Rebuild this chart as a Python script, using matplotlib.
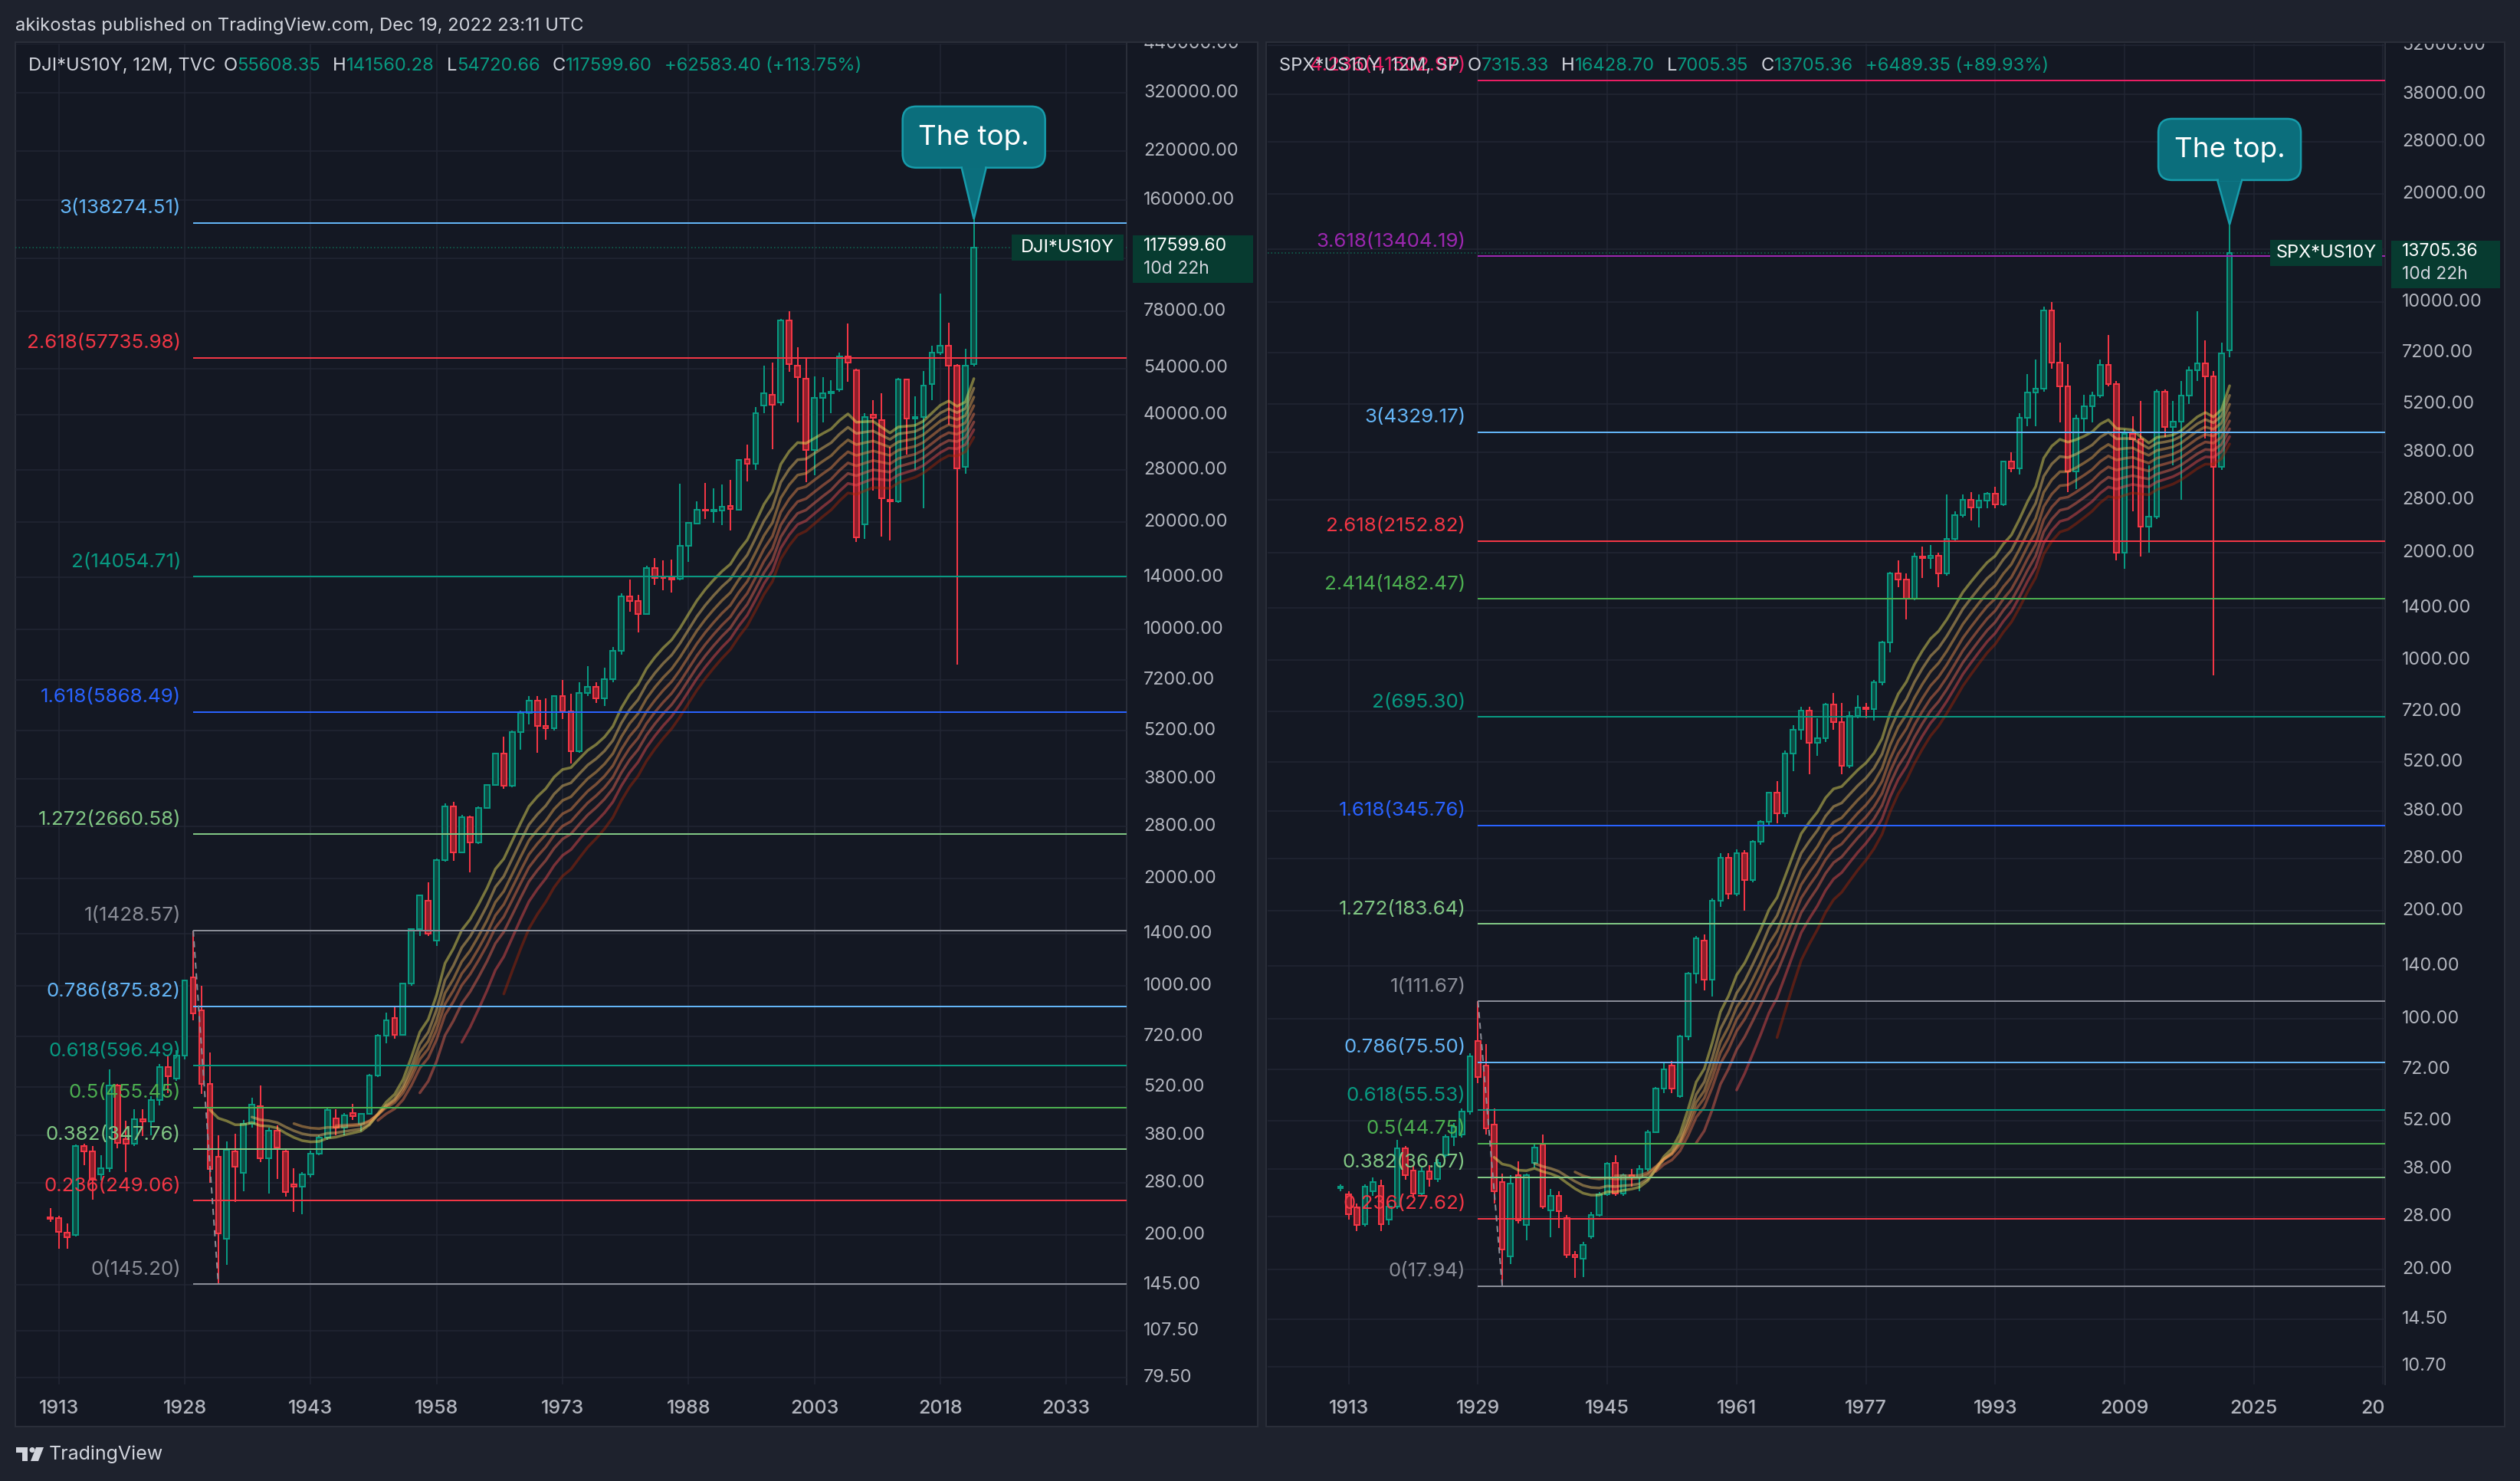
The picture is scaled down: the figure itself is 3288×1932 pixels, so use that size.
import numpy as np
import matplotlib
matplotlib.use('Agg')
import matplotlib.pyplot as plt
from matplotlib.patches import Rectangle, FancyBboxPatch, Polygon, Circle

plt.rcParams['font.family'] = ['Inter', 'DejaVu Sans']

W, H = 3288, 1932

# ---------------- data (yearly candles 1912-2022) ----------------
years = list(range(1912, 2023))

dji_open = [224, 223, 203, 200, 355, 343, 295, 307, 525, 371,
            360, 421, 415, 477, 592, 548, 637, 1055, 853, 530,
            331, 195, 343, 298, 410, 459, 328, 392, 343, 277,
            273, 295, 337, 375, 424, 399, 439, 410, 437, 560,
            724, 813, 727, 1013, 1439, 1731, 1340, 2253, 3186, 2365,
            2968, 2517, 3159, 3654, 4478, 3646, 5159, 5814, 6307, 5361,
            5279, 6487, 5871, 4560, 6615, 6902, 6392, 7253, 8714, 12378,
            12005, 11030, 14890, 13950, 13920, 13850, 17130, 19820, 21700, 21450,
            21580, 22200, 21660, 30000, 29100, 42500, 45500, 43300, 73500, 55000,
            50600, 31820, 44700, 46000, 47060, 58300, 53400, 19750, 40100, 38600,
            23100, 22900, 50140, 38950, 39400, 48890, 59840, 62470, 55050, 28540,
            55608.35]
dji_high = [237, 226, 215, 358, 360, 355, 334, 583, 530, 417,
            451, 451, 490, 604, 640, 660, 1040, 1428.57, 1000, 649,
            380, 365, 385, 420, 484, 525, 400, 405, 350, 308,
            300, 345, 380, 455, 450, 440, 465, 440, 565, 730,
            840, 880, 1015, 1450, 1800, 1950, 2270, 3250, 3280, 3020,
            3000, 3180, 3680, 4500, 5000, 5200, 5900, 6500, 6500, 6400,
            6500, 7200, 6600, 7100, 7900, 7100, 7800, 8900, 12600, 13800,
            12500, 15100, 15880, 15600, 15700, 25670, 20000, 22900, 25790, 24900,
            25500, 26300, 29900, 33000, 42000, 55000, 56000, 74500, 78050, 62000,
            57500, 51300, 51000, 50000, 59800, 72300, 54000, 40500, 44000, 46000,
            32500, 50800, 50500, 45000, 53000, 62500, 87400, 72340, 55500, 61370,
            141560.28]
dji_low = [217, 183, 183, 198, 314, 251, 284, 300, 350, 300,
           355, 379, 380, 462, 500, 540, 620, 800, 498, 280,
           145.2, 165, 247, 265, 400, 320, 261, 287, 256, 232,
           228, 290, 335, 370, 380, 380, 420, 390, 435, 555,
           690, 710, 725, 1000, 1380, 1380, 1290, 2230, 2240, 2350,
           2080, 2500, 3130, 3650, 3560, 3600, 4600, 5400, 4500, 4900,
           5200, 5600, 4200, 4500, 6500, 6200, 6100, 7100, 8500, 11200,
           9800, 11000, 13300, 12900, 12700, 13700, 15480, 19750, 20440, 19930,
           19600, 18900, 21500, 26000, 28000, 40400, 32000, 42500, 52700, 38000,
           25900, 27000, 38000, 40400, 46500, 49600, 17600, 17900, 24500, 18200,
           17800, 22600, 31000, 28000, 21900, 44000, 59000, 37500, 7965, 27330,
           54720.66]
dji_close = [222, 204, 197, 355, 343, 285, 307, 525, 362, 360,
             421, 415, 477, 592, 558, 637, 1032, 836, 530, 306,
             202, 346, 311, 410, 464, 328, 392, 352, 263, 273,
             295, 337, 375, 448, 399, 432, 431, 437, 560, 724,
             798, 727, 1013, 1439, 1795, 1400, 2253, 3186, 2365, 2968,
             2517, 3159, 3654, 4478, 3646, 5159, 5814, 6307, 5361, 5279,
             6487, 5871, 4560, 6615, 6902, 6392, 7253, 8714, 12378, 12005,
             11030, 14890, 13930, 13900, 13790, 17130, 19930, 21660, 21500, 21600,
             22050, 21800, 29870, 29130, 40400, 45900, 42700, 73500, 55600, 51000,
             31820, 44520, 45880, 46500, 58340, 56000, 18110, 39430, 39200, 23320,
             22900, 50140, 38950, 39430, 48290, 59700, 62470, 55050, 28260, 55050,
             117599.60]

spx_open = [33.7, 32.4, 29.7, 26.7, 33.0, 34.2, 27.5, 29.9, 43.4, 37.7,
            32.5, 37.4, 35.6, 41.6, 46.7, 47.4, 55.0, 86.4, 73.9, 50.6,
            35.0, 21.7, 36.5, 26.5, 39.6, 44.5, 29.2, 32.0, 27.8, 21.9,
            21.4, 24.6, 28.3, 32.3, 39.6, 32.5, 36.5, 36.0, 38.0, 48.2,
            63.7, 73.9, 60.7, 89.2, 133.5, 165.0, 128.4, 213, 281, 223,
            290, 244, 311, 354, 427, 373, 550, 640, 725, 589,
            605, 751, 673, 507, 700, 738, 731, 866, 1122, 1743,
            1681, 1482, 1951, 1923, 1956, 1751, 2182, 2538, 2803, 2668,
            2795, 2915, 2719, 3582, 3437, 4756, 5580, 5716, 9477, 6760,
            5798, 3361, 4726, 5114, 5480, 6666, 5903, 1996, 4282, 4138,
            2364, 2510, 5601, 4468, 4640, 5485, 6443, 6743, 6203, 3456,
            7315.33]
spx_high = [34.5, 33.0, 30.5, 34.5, 36.0, 35.5, 30.5, 45.9, 44.0, 39.0,
            38.5, 39.0, 40.5, 47.5, 51.0, 56.0, 80.0, 111.67, 85.0, 56.0,
            37.0, 36.5, 40.0, 37.0, 44.5, 47.4, 33.5, 33.0, 28.3, 22.5,
            23.8, 28.8, 32.8, 39.8, 41.5, 37.0, 38.0, 39.0, 49.0, 64.5,
            75.0, 76.0, 90.0, 135.0, 170.0, 172.0, 216, 290, 290, 296,
            295, 315, 358, 430, 460, 560, 660, 740, 740, 690,
            760, 810, 760, 720, 800, 760, 880, 1130, 1760, 1900,
            1750, 2000, 2080, 2100, 2000, 2900, 2600, 2900, 2950, 2900,
            2950, 3050, 3600, 3800, 4900, 6300, 6900, 9700, 10000, 7700,
            6700, 4850, 5500, 5600, 6900, 8100, 6000, 4400, 4800, 5300,
            3500, 5700, 5700, 5300, 6000, 6600, 9400, 7800, 6400, 7700,
            16428.70]
spx_low = [33.0, 27.5, 25.5, 26.3, 32.0, 25.5, 26.5, 29.5, 35.5, 31.5,
           32.0, 34.0, 35.0, 41.0, 44.0, 46.5, 54.0, 66.0, 47.5, 30.5,
           17.94, 20.7, 26.8, 24.0, 38.5, 29.5, 24.5, 26.0, 21.5, 18.9,
           19.0, 24.3, 28.0, 32.0, 32.0, 32.0, 34.0, 33.0, 37.5, 48.0,
           62.0, 62.0, 60.0, 87.0, 125.0, 120.0, 115, 205, 215, 220,
           200, 240, 305, 345, 350, 365, 490, 600, 480, 540,
           590, 640, 480, 500, 690, 690, 680, 850, 1050, 1600,
           1300, 1470, 1700, 1800, 1600, 1720, 2150, 2500, 2450, 2350,
           2650, 2650, 2700, 3350, 3300, 4500, 4500, 5600, 6500, 4600,
           2950, 3000, 4300, 4600, 5400, 5800, 1900, 1800, 2600, 1950,
           2000, 2480, 4200, 3500, 2800, 5200, 6000, 4160, 908, 3400,
           7005.35]
spx_close = [33.9, 28.5, 26.5, 33.9, 35.0, 26.7, 29.9, 43.4, 36.5, 32.5,
             37.4, 35.6, 39.6, 46.7, 49.8, 55.0, 78.3, 68.6, 49.4, 33.0,
             22.7, 34.7, 27.4, 36.5, 43.7, 29.9, 32.0, 29.0, 21.9, 21.6,
             23.4, 28.3, 32.3, 39.3, 32.5, 36.5, 36.0, 38.0, 48.2, 63.7,
             72.1, 63.7, 89.2, 133.5, 167.5, 128.4, 213, 281, 223, 290,
             244, 311, 354, 427, 373, 550, 640, 725, 589, 605,
             751, 673, 507, 700, 738, 731, 866, 1122, 1743, 1681,
             1482, 1951, 1923, 1956, 1751, 2182, 2538, 2803, 2668, 2795,
             2915, 2719, 3582, 3437, 4756, 5580, 5716, 9477, 6760, 5798,
             3361, 4726, 5114, 5480, 6666, 5903, 1996, 4282, 4138, 2364,
             2510, 5601, 4468, 4640, 5485, 6443, 6743, 6203, 3456, 7197,
             13705.36]

# fibonacci levels drawn from the 1929 top / 1932 bottom
dji_fib_ratio = ['0', '0.236', '0.382', '0.5', '0.618', '0.786', '1', '1.272', '1.618', '2', '2.618', '3']
dji_fib_value = [145.20, 249.06, 347.76, 455.45, 596.49, 875.82, 1428.57, 2660.58, 5868.49, 14054.71,
                 57735.98, 138274.51]
spx_fib_ratio = ['0', '0.236', '0.382', '0.5', '0.618', '0.786', '1', '1.272', '1.618', '2', '2.414',
                 '2.618', '3', '3.618', '4.236']
spx_fib_value = [17.94, 27.62, 36.07, 44.75, 55.53, 75.50, 111.67, 183.64, 345.76, 695.30, 1482.47,
                 2152.82, 4329.17, 13404.19, 41502.97]

dji_price_ticks = [440000, 320000, 220000, 160000, 110000, 78000, 54000, 40000, 28000, 20000, 14000,
                   10000, 7200, 5200, 3800, 2800, 2000, 1400, 1000, 720, 520, 380, 280, 200, 145, 107.5, 79.5]
spx_price_ticks = [52000, 38000, 28000, 20000, 14000, 10000, 7200, 5200, 3800, 2800, 2000, 1400, 1000,
                   720, 520, 380, 280, 200, 140, 100, 72, 52, 38, 28, 20, 14.5, 10.7]
dji_year_ticks = [1913, 1928, 1943, 1958, 1973, 1988, 2003, 2018, 2033]
spx_year_ticks = [1913, 1929, 1945, 1961, 1977, 1993, 2009, 2025, 2041]

ema_lengths = [20, 25, 30, 35, 40, 45, 50, 55]
ema_colors = ['#f5eb5d', '#f5c86a', '#f5b056', '#f5914e', '#f57b4e', '#f56d58', '#f55151', '#aa2707']

fib_colors = {'0': '#8a8d97', '0.236': '#f23645', '0.382': '#81c784', '0.5': '#4caf50',
              '0.618': '#089981', '0.786': '#64b5f6', '1': '#8a8d97', '1.272': '#81c784',
              '1.618': '#2962ff', '2': '#089981', '2.414': '#4caf50', '2.618': '#f23645',
              '3': '#64b5f6', '3.618': '#9c27b0', '4.236': '#e91e63'}

# ---------------- style ----------------
OUTER = '#1e222d'
PANEL = '#141823'
GRID = '#222633'
BORDER = '#2a2e39'
TXT = '#b2b5be'
HEAD = '#d1d4dc'
UP = '#089981'
DN = '#f23645'
TAG = '#073b30'
TOP_FILL = '#0b6e7c'
TOP_EDGE = '#179cab'

PT = 72 / 100  # points per pixel

fig = plt.figure(figsize=(W / 100, H / 100), dpi=100)
fig.patch.set_facecolor(OUTER)

bg = fig.add_axes([0, 0, 1, 1])
bg.set_xlim(0, W)
bg.set_ylim(H, 0)
bg.axis('off')
bg.set_zorder(0)

ov = fig.add_axes([0, 0, 1, 1])
ov.set_xlim(0, W)
ov.set_ylim(H, 0)
ov.axis('off')
ov.set_zorder(5)

PANE_TOP, PANE_BOT = 57, 1806


def pine_ema(vals, n):
    vals = np.asarray(vals, float)
    out = np.full(len(vals), np.nan)
    out[n - 1] = vals[:n].mean()
    a = 2.0 / (n + 1)
    for i in range(n, len(vals)):
        out[i] = a * vals[i] + (1 - a) * out[i - 1]
    return out


def panel(cfg, o, hi, lo, c, fr, fv, pticks, yticks, title, sym, last, fib_x0, fib_x1):
    x0, x1, ax1 = cfg['x0'], cfg['x1'], cfg['ax1']
    yr_ref, yr_px, ppy = cfg['yr_ref'], cfg['yr_px'], cfg['ppy']
    v_ref, v_px, ppd = cfg['v_ref'], cfg['v_px'], cfg['ppd']

    def xpx(yr):
        return yr_px + (yr - yr_ref) * ppy

    def ypx(v):
        return v_px - (np.log10(v) - np.log10(v_ref)) * ppd

    def val(py):
        return 10 ** (np.log10(v_ref) + (v_px - py) / ppd)

    # panel background and border
    bg.add_patch(Rectangle((cfg['b0'], 55), ax1 - cfg['b0'], 1861 - 55, facecolor=PANEL,
                           edgecolor=BORDER, lw=2 * PT))
    bg.plot([x1, x1], [PANE_TOP, PANE_BOT], color=BORDER, lw=2 * PT)

    ax = fig.add_axes([x0 / W, 1 - PANE_BOT / H, (x1 - x0) / W, (PANE_BOT - PANE_TOP) / H])
    ax.set_zorder(2)
    ax.set_facecolor('none')
    ax.set_yscale('log')
    ax.set_xlim(yr_ref + (x0 - yr_px) / ppy, yr_ref + (x1 - yr_px) / ppy)
    ax.set_ylim(val(PANE_BOT), val(PANE_TOP))
    ax.set_yticks(pticks)
    ax.yaxis.set_minor_locator(matplotlib.ticker.NullLocator())
    ax.set_xticks(yticks)
    ax.tick_params(length=0, labelbottom=False, labelleft=False)
    ax.grid(True, color=GRID, lw=1.5 * PT)
    for s in ax.spines.values():
        s.set_visible(False)

    yrs = np.array(years)
    o = np.array(o, float); hi = np.array(hi, float); lo = np.array(lo, float); c = np.array(c, float)
    up = c >= o
    cols = np.where(up, UP, DN)
    faces = np.where(up, '#0d4a42', '#8e1f2b')
    ax.vlines(yrs, lo, hi, colors=cols, lw=2 * PT, zorder=3)
    ax.bar(yrs, np.abs(c - o), bottom=np.minimum(o, c), width=0.62, color=faces,
           edgecolor=cols, lw=2 * PT, zorder=4)

    # EMA ribbon
    for n, col in zip(ema_lengths, ema_colors):
        e = pine_ema(c, n)
        ax.plot(yrs[n - 1:], e[n - 1:], color=col, lw=3.5 * PT, alpha=0.45, zorder=5,
                solid_capstyle='round')

    # fib levels
    for r, v in zip(fr, fv):
        ax.hlines(v, fib_x0, ax.get_xlim()[1], color=fib_colors[r], lw=2 * PT, zorder=6)
        ov.text(xpx(fib_x0) - 16, ypx(v) - 19, '%s(%.2f)' % (r, v), color=fib_colors[r],
                fontsize=18.7, ha='right', va='center')
    ax.plot([fib_x0, fib_x1], [fv[6], fv[0]], color='#8a8d97', lw=2 * PT, ls=(0, (4, 3)), zorder=6)

    # last price dotted line
    ax.axhline(c[-1], color='#0f6b55', lw=1.5 * PT, ls=(0, (1, 2)), zorder=1)

    # price axis labels (clipped to the axis strip; the one under the price tag is hidden)
    py = ypx(c[-1])
    clip = Rectangle((x1, PANE_TOP), ax1 - x1, PANE_BOT + 8 - PANE_TOP, transform=ov.transData)
    for v in pticks:
        if py - 20 < ypx(v) < py + 48:
            continue
        t = ov.text(x1 + 22, ypx(v), '%.2f' % v, color=TXT, fontsize=16.8, ha='left', va='center',
                    clip_on=True)
        t.set_clip_path(clip)

    # time axis labels (clipped at the pane edge)
    tclip = Rectangle((x0, 1800), x1 - x0, 60, transform=ov.transData)
    for yr in yticks:
        t = ov.text(xpx(yr), 1837, str(yr), color=TXT, fontsize=18, ha='center', va='center',
                    fontweight='medium', clip_on=True)
        t.set_clip_path(tclip)

    # title row
    r = fig.canvas.get_renderer()
    xx = x0 + cfg['title_dx']
    for s, col, gap in title:
        t = ov.text(xx, 86, s, color=col, fontsize=17.1, ha='left', va='center')
        xx += t.get_window_extent(r).width + gap

    # symbol / price tags
    ov.add_patch(Rectangle((x1 - 150, py - 17), 146, 34, facecolor=TAG, edgecolor='none', zorder=3))
    ov.text(x1 - 77, py, sym, color='white', fontsize=17, ha='center', va='center', zorder=4)
    ov.add_patch(Rectangle((x1 + 8, py - 16), ax1 - x1 - 14, 62, facecolor=TAG, edgecolor='none', zorder=3))
    ov.text(x1 + 22, py - 2, last, color='white', fontsize=16.5, ha='left', va='center', zorder=4)
    ov.text(x1 + 22, py + 28, '10d 22h', color=HEAD, fontsize=16.5, ha='left', va='center', zorder=4)

    # "The top." callout
    tx, ty = xpx(yrs[-1]), ypx(hi[-1])
    bw, bh, gap = 186, 80, cfg['tip']
    bx, by = tx - bw / 2, ty - gap - bh
    ov.add_patch(FancyBboxPatch((bx, by), bw, bh, boxstyle='round,pad=0,rounding_size=18',
                                facecolor=TOP_FILL, edgecolor=TOP_EDGE, lw=2.5 * PT, zorder=6))
    ov.add_patch(Polygon([(tx - 16, by + bh), (tx + 16, by + bh), (tx, ty)], closed=True,
                         facecolor=TOP_FILL, edgecolor=TOP_EDGE, lw=2.5 * PT, zorder=6))
    ov.add_patch(Rectangle((tx - 14.5, by + bh - 4), 29, 5, facecolor=TOP_FILL, edgecolor='none', zorder=7))
    ov.text(tx, by + bh / 2 + 1, 'The top.', color='white', fontsize=26.5, ha='center', va='center', zorder=8)
    return ax


left_cfg = dict(b0=20, x0=20, x1=1470, ax1=1641, yr_ref=1913, yr_px=76.8, ppy=10.953,
                v_ref=79.5, v_px=1797, ppd=464.9, title_dx=17, tip=67)
right_cfg = dict(b0=1652, x0=1654, x1=3112, ax1=3268, yr_ref=1913, yr_px=1759.7, ppy=10.545,
                 v_ref=10.7, v_px=1782.5, ppd=467.5, title_dx=15, tip=58)

left_title = [('DJI*US10Y, 12M, TVC', HEAD, 10), ('O', HEAD, 0), ('55608.35', UP, 16),
              ('H', HEAD, 0), ('141560.28', UP, 16), ('L', HEAD, 0), ('54720.66', UP, 16),
              ('C', HEAD, 0), ('117599.60', UP, 16), ('+62583.40 (+113.75%)', UP, 0)]
right_title = [('SPX*US10Y, 12M, SP', HEAD, 10), ('O', HEAD, 0), ('7315.33', UP, 16),
               ('H', HEAD, 0), ('16428.70', UP, 16), ('L', HEAD, 0), ('7005.35', UP, 16),
               ('C', HEAD, 0), ('13705.36', UP, 16), ('+6489.35 (+89.93%)', UP, 0)]

panel(left_cfg, dji_open, dji_high, dji_low, dji_close, dji_fib_ratio, dji_fib_value,
      dji_price_ticks, dji_year_ticks, left_title, 'DJI*US10Y', '117599.60', 1929, 1932)
panel(right_cfg, spx_open, spx_high, spx_low, spx_close, spx_fib_ratio, spx_fib_value,
      spx_price_ticks, spx_year_ticks, right_title, 'SPX*US10Y', '13705.36', 1929, 1932)

# header and footer
ov.text(20, 34, 'akikostas published on TradingView.com, Dec 19, 2022 23:11 UTC', color=HEAD,
        fontsize=17.1, ha='left', va='center')
ov.add_patch(Rectangle((21, 1888), 15, 7, facecolor=HEAD, edgecolor='none'))
ov.add_patch(Rectangle((29, 1888), 7, 18, facecolor=HEAD, edgecolor='none'))
ov.add_patch(Circle((42, 1891.5), 3.5, facecolor=HEAD, edgecolor='none'))
ov.add_patch(Polygon([(47, 1888), (57, 1888), (50, 1906), (40, 1906)], closed=True,
                     facecolor=HEAD, edgecolor='none'))
ov.text(64, 1897, 'TradingView', color=HEAD, fontsize=18, ha='left', va='center')

fig.savefig('out.png', dpi=100, facecolor=OUTER)
